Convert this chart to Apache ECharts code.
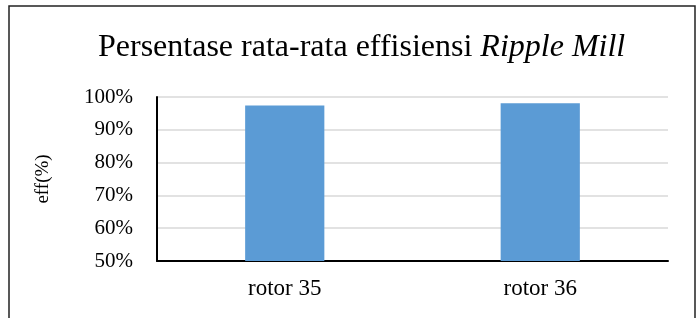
<!DOCTYPE html>
<html>
<head>
<meta charset="utf-8">
<script src="https://cdn.jsdelivr.net/npm/echarts@6/dist/echarts.min.js"></script>
<style>
  html, body { margin: 0; padding: 0; background: #fff; }
  #chart { width: 700px; height: 318px; }
</style>
</head>
<body>
<div id="chart"></div>
<script>
const categories = ['rotor 35', 'rotor 36']
const efficiency = [97.4, 98.1]
const yTicks = [50, 60, 70, 80, 90, 100]

const serif = '"Liberation Serif", "Times New Roman", serif'
const chart = echarts.init(document.getElementById('chart'))

chart.setOption({
  animation: false,
  title: {
    text: '{a|Persentase rata-rata effisiensi }{b|Ripple Mill}',
    left: 93,
    top: 27,
    textStyle: {
      rich: {
        a: { fontFamily: serif, fontSize: 32, fontWeight: 'normal', color: '#000' },
        b: { fontFamily: serif, fontSize: 32, fontWeight: 'normal', color: '#000', fontStyle: 'italic' }
      }
    }
  },
  graphic: [{
    type: 'rect',
    shape: { x: 9, y: 6, width: 686, height: 330 },
    style: { fill: 'none', stroke: '#222', lineWidth: 1.5 },
    silent: true
  }],
  grid: { left: 157, right: 32, top: 97, bottom: 57 },
  xAxis: {
    type: 'category',
    data: categories,
    axisLine: { lineStyle: { color: '#000', width: 2 } },
    axisTick: { show: false },
    axisLabel: { fontFamily: serif, fontSize: 23, color: '#000', margin: 16 }
  },
  yAxis: {
    type: 'value',
    min: yTicks[0],
    max: yTicks[yTicks.length - 1],
    interval: 10,
    name: 'eff(%)',
    nameLocation: 'middle',
    nameGap: 104,
    nameTextStyle: { fontFamily: serif, fontSize: 19, color: '#000' },
    axisLine: { show: true, lineStyle: { color: '#000', width: 2 } },
    axisTick: { show: false },
    axisLabel: { fontFamily: serif, fontSize: 21, color: '#000', margin: 24, formatter: '{value}%' },
    splitLine: { lineStyle: { color: '#d9d9d9', width: 1.5 } }
  },
  series: [{
    type: 'bar',
    data: efficiency,
    barWidth: '31%',
    itemStyle: { color: '#5b9bd5' }
  }]
})
</script>
</body>
</html>
